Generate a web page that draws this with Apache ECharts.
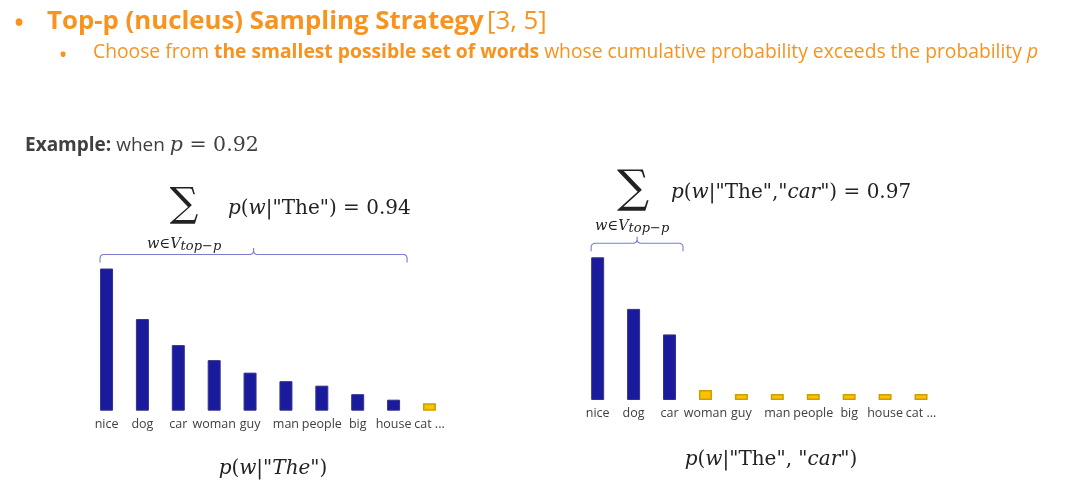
<!DOCTYPE html>
<html><head><meta charset="utf-8">
<script src="https://cdn.jsdelivr.net/npm/echarts@6/dist/echarts.min.js"></script>
<style>html,body{margin:0;padding:0;background:#fff}#c{width:1080px;height:501px}</style>
</head><body><div id="c"></div>
<script>
// ---- data ----
const words = ['nice', 'dog', 'car', 'woman', 'guy', 'man', 'people', 'big', 'house', 'cat'];
const probsGivenThe = [0.284, 0.183, 0.131, 0.101, 0.076, 0.059, 0.050, 0.033, 0.022, 0.015];
const probsGivenTheCar = [0.285, 0.182, 0.131, 0.020, 0.012, 0.012, 0.012, 0.012, 0.012, 0.012];
const topPCountThe = 9;     // bars inside V_top-p for p(w|"The")
const topPCountTheCar = 3;  // bars inside V_top-p for p(w|"The","car")
const yMax = 0.3;

// ---- styles ----
const ORANGE = '#f7931e';
const NAVY = '#1a1a9c';
const NAVY_BORDER = '#33338f';
const GOLD = '#ffc000';
const GOLD_BORDER = '#c9a000';
const BRACE = '#7b7bd2';
const GRAY = '#404040';
const SANS = '"Open Sans", "Noto Sans", sans-serif';
const SERIF = '"DejaVu Serif", "Liberation Serif", serif';
const BAR_W = 13;

function barData(values, topCount) {
  return values.map((v, i) => ({
    value: v,
    itemStyle: i < topCount
      ? { color: NAVY, borderColor: NAVY_BORDER, borderWidth: 1 }
      : { color: GOLD, borderColor: GOLD_BORDER, borderWidth: 1.5 }
  }));
}

function xAxisCfg(gi) {
  return {
    type: 'category', gridIndex: gi, data: words,
    axisLine: { show: false }, axisTick: { show: false }, splitLine: { show: false },
    axisLabel: {
      interval: 0, margin: 7, fontFamily: SANS, fontSize: 12.5, color: GRAY,
      formatter: (v, i) => (i === words.length - 1 ? v + ' ...' : v)
    }
  };
}
function yAxisCfg(gi) {
  return { type: 'value', gridIndex: gi, min: 0, max: yMax, show: false };
}

const chart = echarts.init(document.getElementById('c'), null, { renderer: 'canvas' });

const option = {
  backgroundColor: '#ffffff',
  animation: false,
  grid: [
    { left: 88.6, top: 260.5, width: 358.8, height: 150.2 },
    { left: 579.7, top: 249.8, width: 359.3, height: 150.2 }
  ],
  xAxis: [xAxisCfg(0), xAxisCfg(1)],
  yAxis: [yAxisCfg(0), yAxisCfg(1)],
  series: [
    { type: 'bar', xAxisIndex: 0, yAxisIndex: 0, barWidth: BAR_W, data: barData(probsGivenThe, topPCountThe) },
    { type: 'bar', xAxisIndex: 1, yAxisIndex: 1, barWidth: BAR_W, data: barData(probsGivenTheCar, topPCountTheCar) }
  ]
};
chart.setOption(option);

// ---- braces computed from bar positions ----
function braceElements(axisIdx, values, topCount) {
  const c0 = chart.convertToPixel({ xAxisIndex: axisIdx, yAxisIndex: axisIdx }, [0, Math.max(...values)]);
  const cN = chart.convertToPixel({ xAxisIndex: axisIdx, yAxisIndex: axisIdx }, [topCount - 1, 0]);
  const x0 = c0[0] - BAR_W / 2;
  const x1 = cN[0] + BAR_W / 2 + 7;
  const y = c0[1] - 14;
  const xm = (x0 + x1) / 2;
  const ls = { stroke: BRACE, lineWidth: 1.1, fill: null };
  return [
    { type: 'polyline', silent: true, shape: { points: [[x0, y + 8], [x0, y + 3], [x0 + 1, y + 1], [x0 + 3, y], [xm - 3, y], [xm - 1, y - 1], [xm, y - 3], [xm, y - 6.5]] }, style: ls },
    { type: 'polyline', silent: true, shape: { points: [[x1, y + 8], [x1, y + 3], [x1 - 1, y + 1], [x1 - 3, y], [xm + 3, y], [xm + 1, y - 1], [xm, y - 3]] }, style: ls }
  ];
}

function txt(x, y, text, rich, align) {
  return {
    type: 'text', x: x, y: y, silent: true,
    style: { text: text, rich: rich, align: align || 'left', verticalAlign: 'middle', fill: ORANGE }
  };
}

const mathRich = {
  i: { fontFamily: SERIF, fontStyle: 'italic', fontSize: 20, fill: '#222' },
  r: { fontFamily: SERIF, fontSize: 20, fill: '#222' },
  sum: { fontFamily: SERIF, fontSize: 40, fill: '#222' },
  sumL: { fontFamily: SERIF, fontSize: 45, fill: '#222' },
  a: { fontFamily: SERIF, fontStyle: 'italic', fontSize: 14.5, fill: '#222', lineHeight: 18, verticalAlign: 'middle' },
  s: { fontFamily: SERIF, fontStyle: 'italic', fontSize: 13, fill: '#222', lineHeight: 18, verticalAlign: 'bottom' }
};

const graphics = [
  // headline
  txt(19, 25, '{d|•}', { d: { fontFamily: SANS, fontSize: 32, fill: ORANGE } }, 'center'),
  txt(47, 22, '{b|Top-p (nucleus) Sampling Strategy} {n|[3, 5]}', {
    b: { fontFamily: SANS, fontWeight: 'bold', fontSize: 25.8, fill: ORANGE },
    n: { fontFamily: SANS, fontSize: 25.8, fill: ORANGE }
  }),
  txt(63, 56, '{d|•}', { d: { fontFamily: SANS, fontSize: 23, fill: ORANGE } }, 'center'),
  txt(93, 53, '{n|Choose from }{b|the smallest possible set of words}{n| whose cumulative probability exceeds the probability }{i|p}', {
    n: { fontFamily: SANS, fontSize: 19.3, fill: ORANGE },
    b: { fontFamily: SANS, fontWeight: 'bold', fontSize: 19.3, fill: ORANGE },
    i: { fontFamily: SANS, fontStyle: 'italic', fontSize: 19.3, fill: ORANGE }
  }),
  // example line
  txt(25, 146, '{b|Example: }{n|when }{i|p}{m| = 0.92}', {
    b: { fontFamily: SANS, fontWeight: 'bold', fontSize: 19, fill: GRAY },
    n: { fontFamily: SANS, fontSize: 19, fill: GRAY },
    i: { fontFamily: SERIF, fontStyle: 'italic', fontSize: 20.5, fill: GRAY },
    m: { fontFamily: SERIF, fontSize: 20.5, fill: GRAY }
  }),
  // left formula
  txt(184, 206, '{sum|∑}', mathRich, 'center'),
  txt(147, 244, '{a|w∈V}{s|top−p}', mathRich),
  txt(228, 209, '{i|p}{r|(}{i|w}{r||"The") = 0.94}', mathRich),
  // right formula
  txt(633, 190, '{sumL|∑}', mathRich, 'center'),
  txt(595, 226, '{a|w∈V}{s|top−p}', mathRich),
  txt(671, 193, '{i|p}{r|(}{i|w}{r||"The",\"}{i|car}{r|") = 0.97}', mathRich),
  // bottom captions
  txt(273, 469, '{i|p}{r|(}{i|w}{r||"}{i|The}{r|")}', mathRich, 'center'),
  txt(771, 460, '{i|p}{r|(}{i|w}{r||"The", "}{i|car}{r|")}', mathRich, 'center')
];

chart.setOption({
  graphic: graphics
    .concat(braceElements(0, probsGivenThe, topPCountThe))
    .concat(braceElements(1, probsGivenTheCar, topPCountTheCar))
});
</script>
</body></html>
